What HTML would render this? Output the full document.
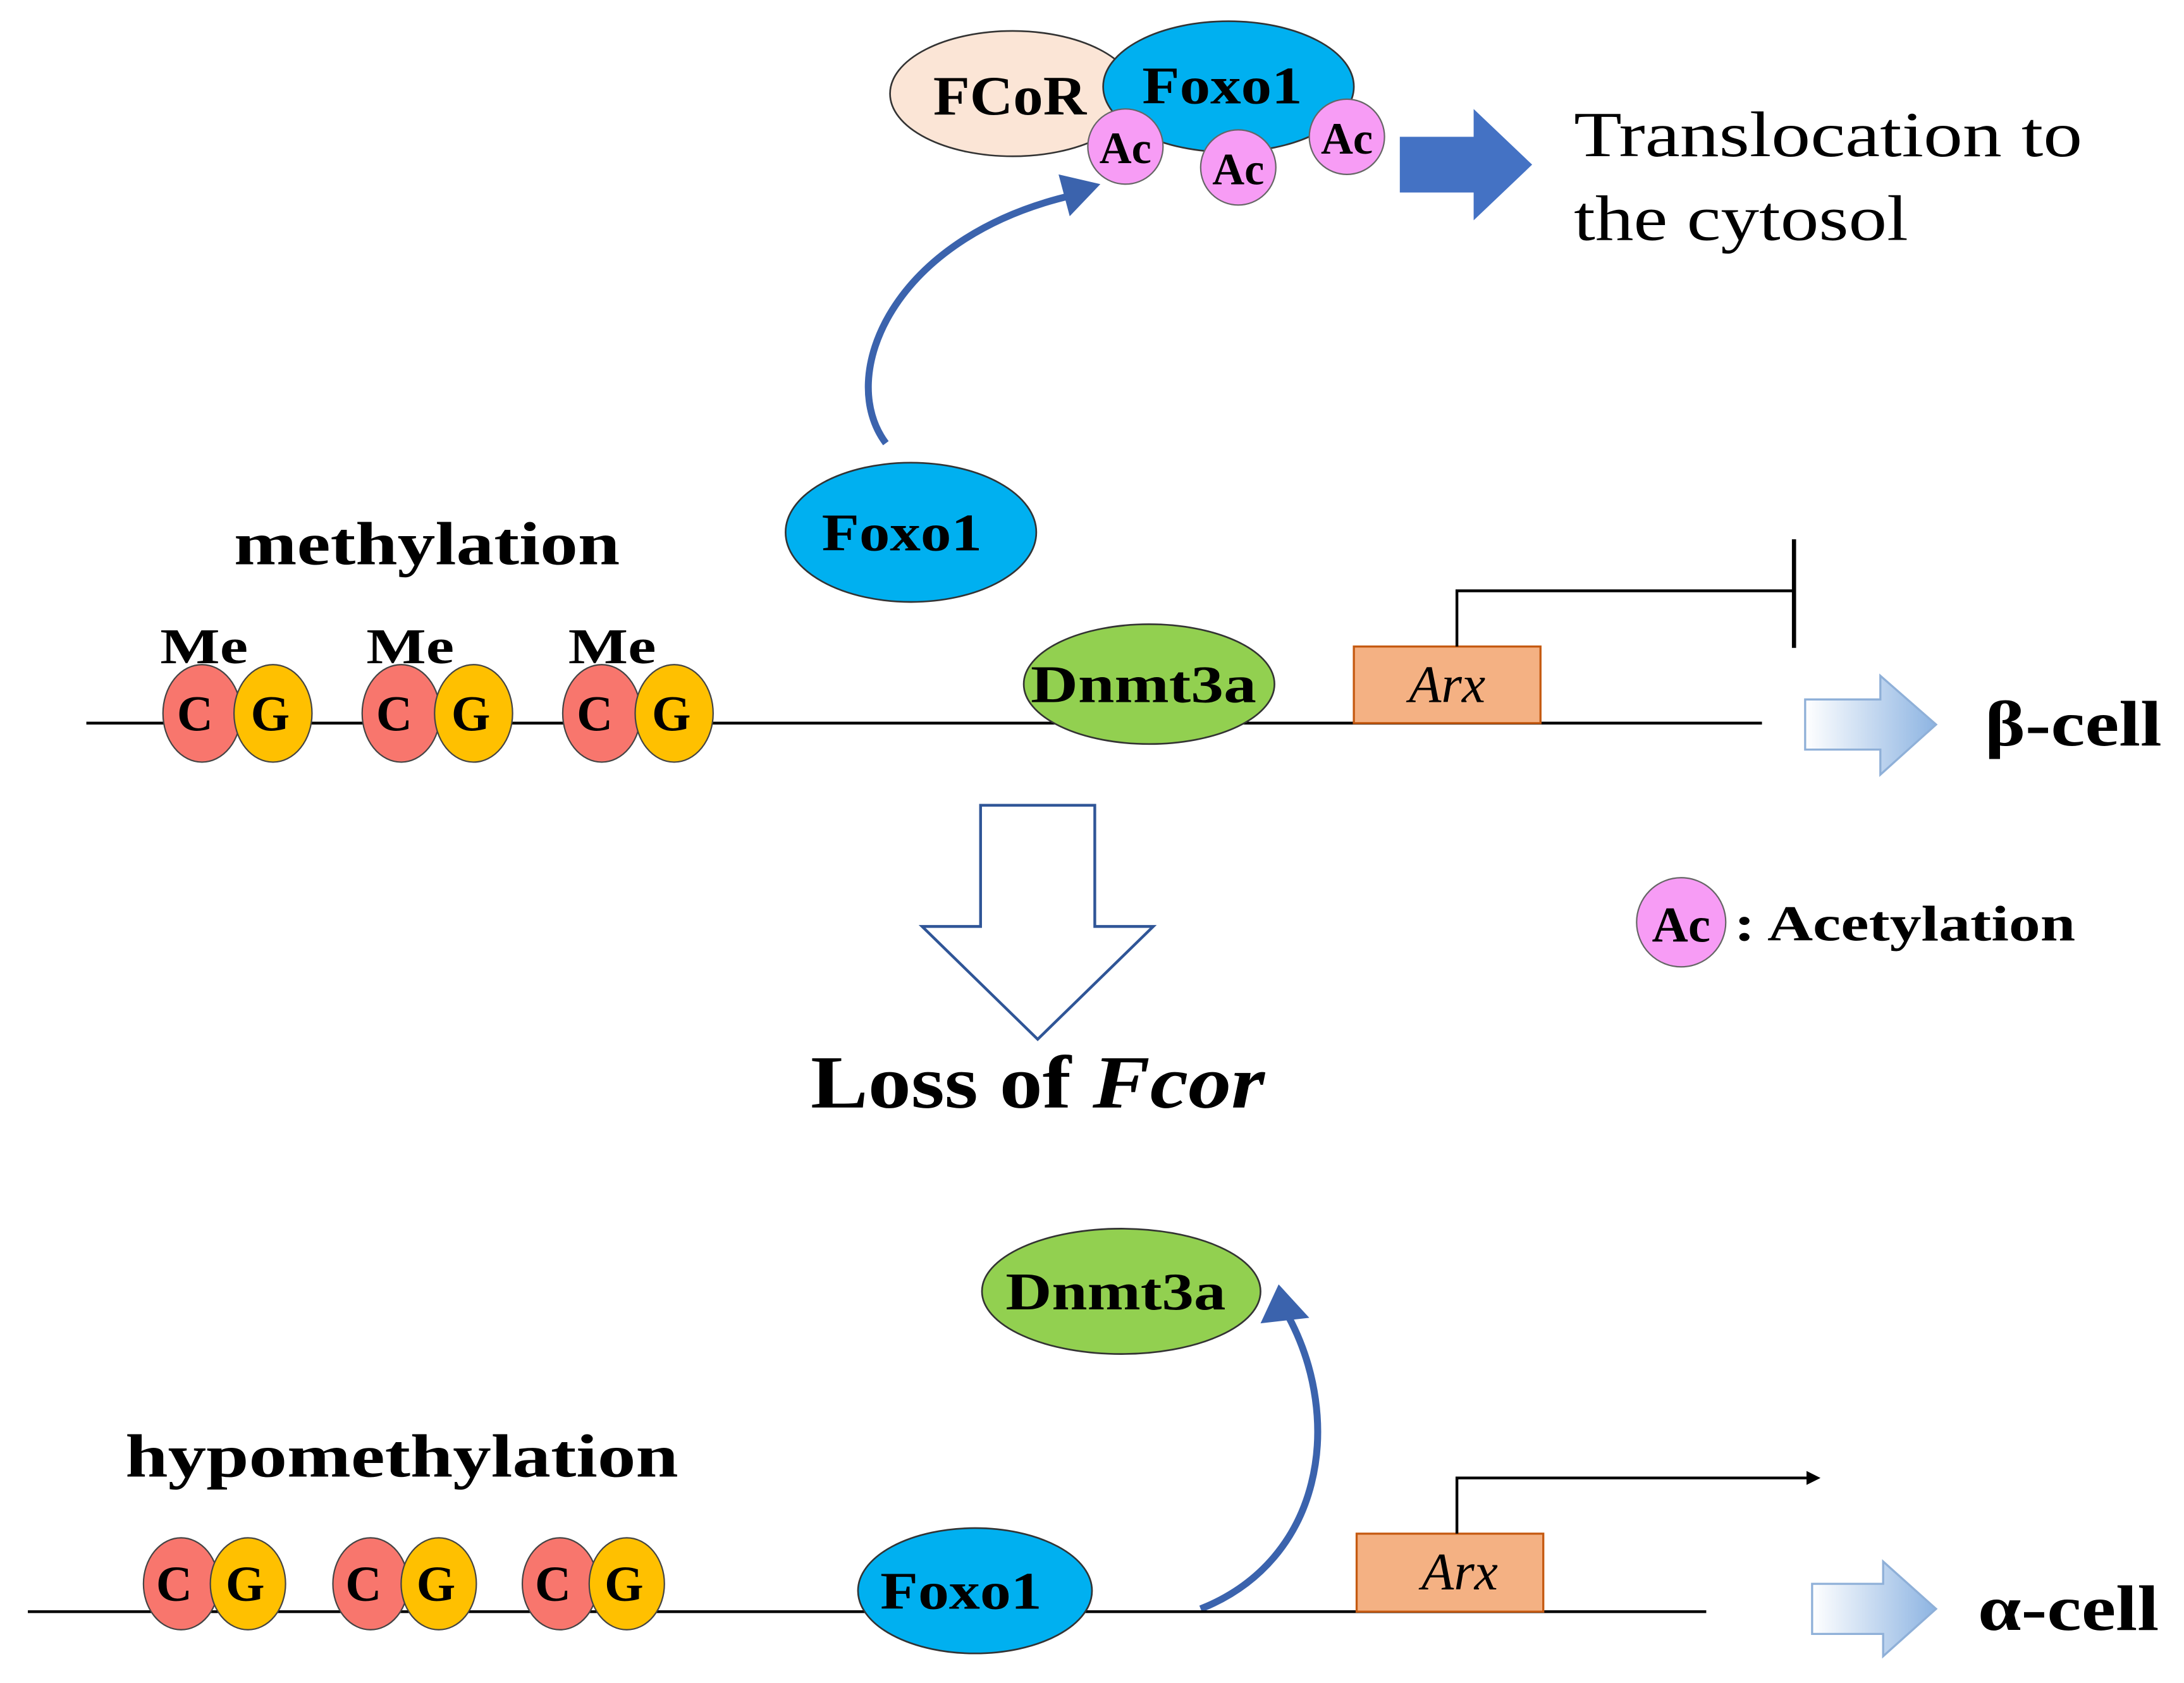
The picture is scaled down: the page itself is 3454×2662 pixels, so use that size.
<!DOCTYPE html>
<html><head><meta charset="utf-8"><style>
html,body{margin:0;padding:0;background:#fff}
svg{display:block}
text{font-family:"Liberation Serif",serif;fill:#000}
.b{font-weight:bold}
</style></head><body>
<svg width="3454" height="2662" viewBox="0 0 1568 1208" xmlns="http://www.w3.org/2000/svg">
<defs>
<linearGradient id="g" x1="0" x2="1" y1="0" y2="0"><stop offset="0" stop-color="#ffffff"/><stop offset="1" stop-color="#8db4e2"/></linearGradient>
<marker id="ah" markerWidth="10" markerHeight="10" refX="5" refY="5" orient="auto" markerUnits="userSpaceOnUse" viewBox="0 0 10 10"><path d="M0,0 L10,5 L0,10 z" fill="#000"/></marker>
</defs>
<ellipse cx="727" cy="67" rx="88" ry="45" fill="#fbe5d6" stroke="#333" stroke-width="1.2"/>
<text x="670" y="82" font-size="40" class="b" textLength="110" lengthAdjust="spacingAndGlyphs">FCoR</text>
<ellipse cx="882" cy="62" rx="90" ry="47" fill="#00b0f0" stroke="#333" stroke-width="1.2"/>
<text x="820" y="74" font-size="38" class="b" textLength="115" lengthAdjust="spacingAndGlyphs">Foxo1</text>
<circle cx="808" cy="105" r="27" fill="#f79cf5" stroke="#666" stroke-width="1"/>
<text x="808" y="117" font-size="32" class="b" text-anchor="middle">Ac</text>
<circle cx="889" cy="120" r="27" fill="#f79cf5" stroke="#666" stroke-width="1"/>
<text x="889" y="132" font-size="32" class="b" text-anchor="middle">Ac</text>
<circle cx="967" cy="98" r="27" fill="#f79cf5" stroke="#666" stroke-width="1"/>
<text x="967" y="110" font-size="32" class="b" text-anchor="middle">Ac</text>
<path d="M1005,98 L1058,98 L1058,78 L1100,118 L1058,158 L1058,138 L1005,138 z" fill="#4472c4"/>
<text x="1130" y="112" font-size="46" textLength="365" lengthAdjust="spacingAndGlyphs">Translocation  to</text>
<text x="1130" y="172" font-size="46" textLength="240" lengthAdjust="spacingAndGlyphs">the cytosol</text>
<path d="M636,318 C600,270 640,170 770,140" fill="none" stroke="#3b63ad" stroke-width="5"/>
<path d="M760,125 L790,132 L768,155 z" fill="#3b63ad"/>
<ellipse cx="654" cy="382" rx="90" ry="50" fill="#00b0f0" stroke="#333" stroke-width="1.2"/>
<text x="590" y="395" font-size="38" class="b" textLength="115" lengthAdjust="spacingAndGlyphs">Foxo1</text>
<text x="168" y="405" font-size="44" class="b" textLength="277" lengthAdjust="spacingAndGlyphs">methylation</text>
<line x1="62" y1="519" x2="1265" y2="519" stroke="#000" stroke-width="2"/>
<text x="115" y="476" font-size="36" class="b" textLength="63" lengthAdjust="spacingAndGlyphs">Me</text>
<text x="263" y="476" font-size="36" class="b" textLength="63" lengthAdjust="spacingAndGlyphs">Me</text>
<text x="408" y="476" font-size="36" class="b" textLength="63" lengthAdjust="spacingAndGlyphs">Me</text>
<g stroke="#444" stroke-width="1">
<ellipse cx="145" cy="512" rx="28" ry="35" fill="#f8766d"/><ellipse cx="196" cy="512" rx="28" ry="35" fill="#ffc000"/>
<ellipse cx="288" cy="512" rx="28" ry="35" fill="#f8766d"/><ellipse cx="340" cy="512" rx="28" ry="35" fill="#ffc000"/>
<ellipse cx="432" cy="512" rx="28" ry="35" fill="#f8766d"/><ellipse cx="484" cy="512" rx="28" ry="35" fill="#ffc000"/>
</g>
<g font-size="36" text-anchor="middle">
<text x="140" y="524" class="b">C</text><text x="194" y="524" class="b">G</text>
<text x="283" y="524" class="b">C</text><text x="338" y="524" class="b">G</text>
<text x="427" y="524" class="b">C</text><text x="482" y="524" class="b">G</text>
</g>
<ellipse cx="825" cy="491" rx="90" ry="43" fill="#92d050" stroke="#333" stroke-width="1.2"/>
<text x="740" y="504" font-size="38" class="b" textLength="162" lengthAdjust="spacingAndGlyphs">Dnmt3a</text>
<rect x="972" y="464" width="134" height="55" fill="#f4b183" stroke="#c55a11" stroke-width="1.5"/>
<text x="1039" y="504" font-size="38" font-style="italic" text-anchor="middle">Arx</text>
<path d="M1046,464 L1046,424 L1288,424" fill="none" stroke="#000" stroke-width="2"/>
<line x1="1288" y1="387" x2="1288" y2="465" stroke="#000" stroke-width="3"/>
<path d="M1296,502 L1350,502 L1350,485 L1390,520 L1350,556 L1350,538 L1296,538 z" fill="url(#g)" stroke="#8fb0d8" stroke-width="1.5"/>
<text x="1425" y="535" font-size="46" class="b" textLength="127" lengthAdjust="spacingAndGlyphs">β-cell</text>
<path d="M704,578 L786,578 L786,665 L828,665 L745,746 L662,665 L704,665 z" fill="#fff" stroke="#2f5597" stroke-width="2"/>
<text x="582" y="795" font-size="54" class="b" textLength="326" lengthAdjust="spacingAndGlyphs">Loss of <tspan font-style="italic">Fcor</tspan></text>
<circle cx="1207" cy="662" r="32" fill="#f79cf5" stroke="#666" stroke-width="1"/>
<text x="1207" y="676" font-size="36" class="b" text-anchor="middle">Ac</text>
<text x="1245" y="675" font-size="36" class="b" textLength="245" lengthAdjust="spacingAndGlyphs">:  Acetylation</text>
<ellipse cx="805" cy="927" rx="100" ry="45" fill="#92d050" stroke="#333" stroke-width="1.2"/>
<text x="722" y="940" font-size="38" class="b" textLength="158" lengthAdjust="spacingAndGlyphs">Dnmt3a</text>
<path d="M862,1155 C950,1120 965,1020 925,945" fill="none" stroke="#3b63ad" stroke-width="5"/>
<path d="M905,950 L918,922 L940,946 z" fill="#3b63ad"/>
<text x="90" y="1060" font-size="44" class="b" textLength="397" lengthAdjust="spacingAndGlyphs">hypomethylation</text>
<line x1="20" y1="1157" x2="1225" y2="1157" stroke="#000" stroke-width="2"/>
<g stroke="#444" stroke-width="1">
<ellipse cx="130" cy="1137" rx="27" ry="33" fill="#f8766d"/><ellipse cx="178" cy="1137" rx="27" ry="33" fill="#ffc000"/>
<ellipse cx="266" cy="1137" rx="27" ry="33" fill="#f8766d"/><ellipse cx="315" cy="1137" rx="27" ry="33" fill="#ffc000"/>
<ellipse cx="402" cy="1137" rx="27" ry="33" fill="#f8766d"/><ellipse cx="450" cy="1137" rx="27" ry="33" fill="#ffc000"/>
</g>
<g font-size="36" text-anchor="middle">
<text x="125" y="1149" class="b">C</text><text x="176" y="1149" class="b">G</text>
<text x="261" y="1149" class="b">C</text><text x="313" y="1149" class="b">G</text>
<text x="397" y="1149" class="b">C</text><text x="448" y="1149" class="b">G</text>
</g>
<ellipse cx="700" cy="1142" rx="84" ry="45" fill="#00b0f0" stroke="#333" stroke-width="1.2"/>
<text x="632" y="1155" font-size="38" class="b" textLength="116" lengthAdjust="spacingAndGlyphs">Foxo1</text>
<rect x="974" y="1101" width="134" height="56" fill="#f4b183" stroke="#c55a11" stroke-width="1.5"/>
<text x="1048" y="1141" font-size="38" font-style="italic" text-anchor="middle">Arx</text>
<path d="M1046,1101 L1046,1061 L1302,1061" fill="none" stroke="#000" stroke-width="2" marker-end="url(#ah)"/>
<path d="M1301,1137 L1352,1137 L1352,1121 L1390,1155 L1352,1189 L1352,1173 L1301,1173 z" fill="url(#g)" stroke="#8fb0d8" stroke-width="1.5"/>
<text x="1420" y="1170" font-size="46" class="b" textLength="130" lengthAdjust="spacingAndGlyphs">α-cell</text>
</svg>
</body></html>
